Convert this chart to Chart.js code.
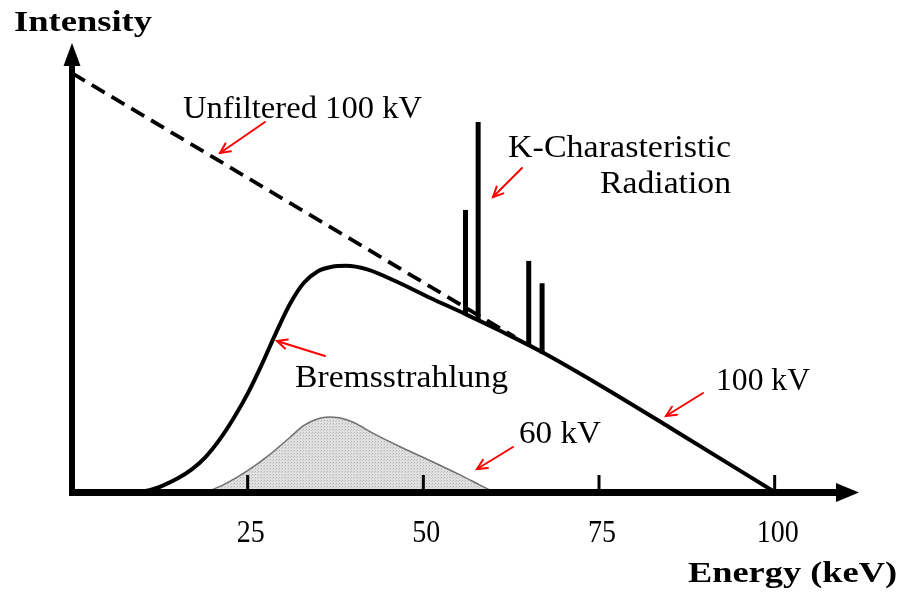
<!DOCTYPE html>
<html>
<head>
<meta charset="utf-8">
<script src="https://cdn.jsdelivr.net/npm/chart.js@4.4.1/dist/chart.umd.min.js"></script>
<style>
html,body{margin:0;padding:0;background:#fff;}
#wrap{width:902px;height:592px;position:relative;}
</style>
</head>
<body>
<div id="wrap"><canvas id="c" width="902" height="592"></canvas></div>
<script>
// ---- data (energy in keV, intensity in arbitrary units) ----
const bremsEnergy    = [9, 11, 13, 15, 17, 19, 21, 23, 25, 27, 29, 31, 33, 35, 37, 39, 42, 46, 51, 56, 61, 67, 75, 85, 100];
const bremsIntensity = [0, 0.4, 1.5, 3.0, 5.0, 7.8, 11.7, 16.5, 22.0, 28.5, 35.5, 42.0, 46.8, 49.4, 50.4, 50.6, 49.8, 47.2, 43.4, 39.8, 36.0, 31.2, 24.0, 14.5, 0];

const unfilteredEnergy    = [0, 63];
const unfilteredIntensity = [93.7, 34.7];

const kv60Energy    = [19.2, 22, 25, 28, 31, 33, 35, 36.5, 38, 40, 43, 47, 51, 55, 58, 60];
const kv60Intensity = [0, 2.0, 4.8, 8.2, 12.2, 14.9, 16.4, 16.8, 16.6, 15.6, 13.0, 9.9, 7.0, 4.0, 1.6, 0];

const kLineEnergy = [56.0, 57.8, 65.0, 66.9];
const kLineTop    = [63.1, 82.8, 51.7, 46.7];
const kLineBase   = [39.8, 38.5, 32.8, 31.0];

const tickValues = [25, 50, 75, 100];
const tickLabels = ['25', '50', '75', '100'];

// ---- build datasets ----
function pts(xs, ys){ return xs.map((x,i)=>({x:x, y:ys[i]})); }

const pc = document.createElement('canvas');
pc.width = 3; pc.height = 3;
const pctx = pc.getContext('2d');
pctx.fillStyle = '#e0e0e0'; pctx.fillRect(0,0,3,3);
pctx.fillStyle = '#b4b4b4'; pctx.fillRect(0,0,1,1);
pctx.fillStyle = '#cacaca'; pctx.fillRect(2,1,1,1);
const stipple = pctx.createPattern(pc, 'repeat');

const datasets = [
  {
    label: '60 kV',
    data: pts(kv60Energy, kv60Intensity),
    showLine: true, fill: 'origin',
    backgroundColor: stipple,
    borderColor: '#707070', borderWidth: 1.5,
    pointRadius: 0, cubicInterpolationMode: 'monotone', order: 5
  },
  {
    label: 'Unfiltered 100 kV',
    data: pts(unfilteredEnergy, unfilteredIntensity),
    showLine: true, fill: false,
    borderColor: '#000', borderWidth: 3.8, borderDash: [15, 8],
    pointRadius: 0, order: 4
  },
  {
    label: 'Bremsstrahlung',
    data: pts(bremsEnergy, bremsIntensity),
    showLine: true, fill: false,
    borderColor: '#000', borderWidth: 4,
    pointRadius: 0, cubicInterpolationMode: 'monotone', order: 3
  }
];
kLineEnergy.forEach((e, i) => {
  datasets.push({
    label: 'K line ' + (i+1),
    data: [{x:e, y:kLineBase[i]}, {x:e, y:kLineTop[i]}],
    showLine: true, fill: false,
    borderColor: '#000', borderWidth: 5, borderCapStyle: 'butt',
    pointRadius: 0, order: 2
  });
});

// ---- annotation layout ----
const SERIF = '"Liberation Serif", "DejaVu Serif", serif';
const texts = [
  {t:'Intensity', x:14, y:31, align:'left', bold:true, size:30, w:138},
  {t:'Unfiltered 100 kV', x:183, y:118, align:'left', w:239},
  {t:'K-Charasteristic', x:731, y:157, align:'right', w:223},
  {t:'Radiation', x:731, y:193, align:'right', w:131},
  {t:'Bremsstrahlung', x:295, y:387, align:'left', w:213},
  {t:'100 kV', x:716, y:390, align:'left', w:94},
  {t:'60 kV', x:519, y:443, align:'left', w:82},
  {t:'Energy (keV)', x:897, y:582, align:'right', bold:true, size:30, w:209}
];
const redArrows = [
  {from:[265,122], to:[220,153]},
  {from:[522,168], to:[493,197]},
  {from:[325,356], to:[277,341]},
  {from:[513,447], to:[477,469]},
  {from:[703,393], to:[666,416]}
];

function fitText(ctx, t, x, y, align, w){
  const m = ctx.measureText(t).width;
  const sx = w ? w / m : 1;
  ctx.save();
  ctx.translate(x, y);
  ctx.scale(sx, 1);
  ctx.textAlign = align;
  ctx.fillText(t, 0, 0);
  ctx.restore();
}

const decor = {
  id: 'decor',
  afterDatasetsDraw(chart){
    const ctx = chart.ctx;
    const xs = chart.scales.x, ys = chart.scales.y;
    const x0 = xs.getPixelForValue(0), y0 = ys.getPixelForValue(0);
    const xEnd = xs.right, yTop = ys.top;
    ctx.save();
    // tick marks
    ctx.strokeStyle = '#000'; ctx.lineWidth = 3;
    tickValues.forEach(v => {
      const px = xs.getPixelForValue(v);
      ctx.beginPath(); ctx.moveTo(px, y0); ctx.lineTo(px, y0 - 17); ctx.stroke();
    });
    // axes
    ctx.fillStyle = '#000';
    ctx.fillRect(x0 - 3, yTop + 18, 6, y0 - yTop - 18 + 4);
    ctx.beginPath(); ctx.moveTo(x0, yTop - 2); ctx.lineTo(x0 - 8.5, yTop + 21); ctx.lineTo(x0 + 8.5, yTop + 21); ctx.closePath(); ctx.fill();
    ctx.fillRect(x0 - 3, y0 - 3, xEnd - x0 - 20, 7);
    ctx.beginPath(); ctx.moveTo(xEnd, y0 + 0.5); ctx.lineTo(xEnd - 23, y0 - 9); ctx.lineTo(xEnd - 23, y0 + 10); ctx.closePath(); ctx.fill();
    // tick labels
    ctx.font = '31px ' + SERIF;
    ctx.textBaseline = 'alphabetic';
    tickValues.forEach((v, i) => {
      fitText(ctx, tickLabels[i], xs.getPixelForValue(v) + 3, 542, 'center', tickLabels[i].length * 14);
    });
    // texts
    texts.forEach(o => {
      ctx.font = (o.bold ? 'bold ' : '') + (o.size || 31) + 'px ' + SERIF;
      fitText(ctx, o.t, o.x, o.y, o.align, o.w);
    });
    // red arrows
    ctx.strokeStyle = '#ff0000'; ctx.lineWidth = 2; ctx.lineCap = 'round';
    redArrows.forEach(a => {
      const [fx, fy] = a.from, [tx, ty] = a.to;
      const ang = Math.atan2(ty - fy, tx - fx);
      ctx.beginPath(); ctx.moveTo(fx, fy); ctx.lineTo(tx, ty); ctx.stroke();
      ctx.beginPath();
      ctx.moveTo(tx - 11*Math.cos(ang - 0.45), ty - 11*Math.sin(ang - 0.45));
      ctx.lineTo(tx, ty);
      ctx.lineTo(tx - 11*Math.cos(ang + 0.45), ty - 11*Math.sin(ang + 0.45));
      ctx.stroke();
    });
    ctx.restore();
  }
};

new Chart(document.getElementById('c'), {
  type: 'scatter',
  data: { datasets },
  options: {
    responsive: false, animation: false,
    layout: { padding: { left: 72, right: 43, top: 45, bottom: 100 } },
    plugins: { legend: { display: false }, tooltip: { enabled: false } },
    scales: {
      x: { type: 'linear', min: 0, max: 112, display: false },
      y: { type: 'linear', min: 0, max: 100, display: false }
    }
  },
  plugins: [decor]
});
</script>
</body>
</html>
